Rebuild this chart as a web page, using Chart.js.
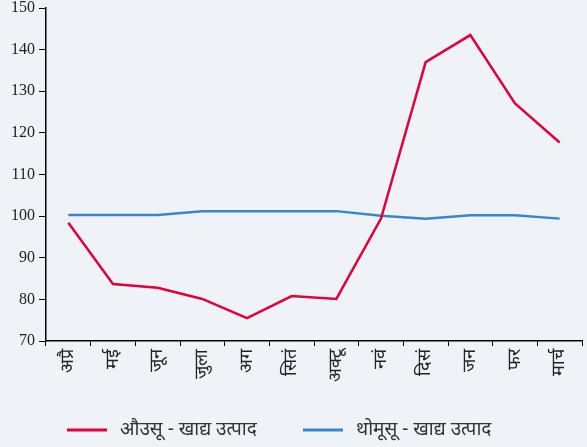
<!DOCTYPE html>
<html>
<head>
<meta charset="utf-8">
<script src="https://cdn.jsdelivr.net/npm/chart.js@4"></script>
<style>
  html, body { margin: 0; padding: 0; background: #eff3f7; }
  #wrap { width: 587px; height: 447px; }
</style>
</head>
<body>
<div id="wrap"><canvas id="chart" width="587" height="447"></canvas></div>
<script>
// months (Nepali short forms)
var months = ['अप्रै', 'मई', 'जून', 'जुला', 'अग', 'सितं', 'अक्टू', 'नवं', 'दिसं', 'जन', 'फर', 'मार्च'];

// औउसू - खाद्य उत्पाद
var redValues = [98.4, 83.7, 82.8, 80.1, 75.5, 80.8, 80.1, 99.4, 137, 143.5, 127.1, 117.7];
// थोमूसू - खाद्य उत्पाद
var blueValues = [100.3, 100.3, 100.3, 101.2, 101.2, 101.2, 101.2, 100.1, 99.4, 100.2, 100.2, 99.4];

var seriesNames = ['औउसू - खाद्य उत्पाद', 'थोमूसू - खाद्य उत्पाद'];
var yTicks = [70, 80, 90, 100, 110, 120, 130, 140, 150];

// legend drawn below the plot, line sample + label for each dataset
var bottomLegend = {
    id: 'bottomLegend',
    afterDraw: function(chart) {
        var ctx = chart.ctx;
        var startX = [67, 303];
        var y = 430;
        ctx.save();
        ctx.font = '19px "Noto Sans"';
        ctx.textBaseline = 'middle';
        chart.data.datasets.forEach(function(ds, i) {
            ctx.fillStyle = ds.borderColor;
            ctx.fillRect(startX[i], y - 1.5, 40, 3);
            ctx.fillStyle = '#333';
            ctx.fillText(ds.label, startX[i] + 53, y);
        });
        ctx.restore();
    }
};

var ctx = document.getElementById('chart').getContext('2d');

var myChart = new Chart(ctx, {
    type: 'line',
    data: {
        labels: months,
        datasets: [{
            label: seriesNames[0],
            data: redValues,
            borderColor: '#e4003a',
            backgroundColor: '#e4003a',
            borderWidth: 2.5,
            pointRadius: 0,
            tension: 0
        }, {
            label: seriesNames[1],
            data: blueValues,
            borderColor: '#3a87c8',
            backgroundColor: '#3a87c8',
            borderWidth: 2.5,
            pointRadius: 0,
            tension: 0
        }]
    },
    plugins: [bottomLegend],
    options: {
        responsive: false,
        animation: false,
        layout: { padding: { left: 7, right: 5, top: 8, bottom: 62 } },
        plugins: {
            tooltip: { enabled: false },
            legend: { display: false }
        },
        scales: {
            x: {
                offset: true,
                border: { color: '#000', width: 1.5 },
                grid: { offset: true, drawOnChartArea: false, color: '#000', tickLength: 5 },
                ticks: {
                    minRotation: 90,
                    maxRotation: 90,
                    autoSkip: false,
                    color: '#222',
                    padding: 3,
                    font: { family: 'Liberation Serif', size: 18 }
                }
            },
            y: {
                min: 70,
                max: 150,
                afterBuildTicks: function(axis) {
                    axis.ticks = yTicks.map(function(v) { return { value: v }; });
                },
                afterFit: function(axis) {
                    axis.paddingTop = 0;
                },
                border: { color: '#000', width: 1.5 },
                grid: { drawOnChartArea: false, color: '#000', tickLength: 7 },
                ticks: {
                    color: '#222',
                    padding: 4,
                    font: { family: 'Liberation Serif', size: 16 }
                }
            }
        }
    }
});
</script>
</body>
</html>
